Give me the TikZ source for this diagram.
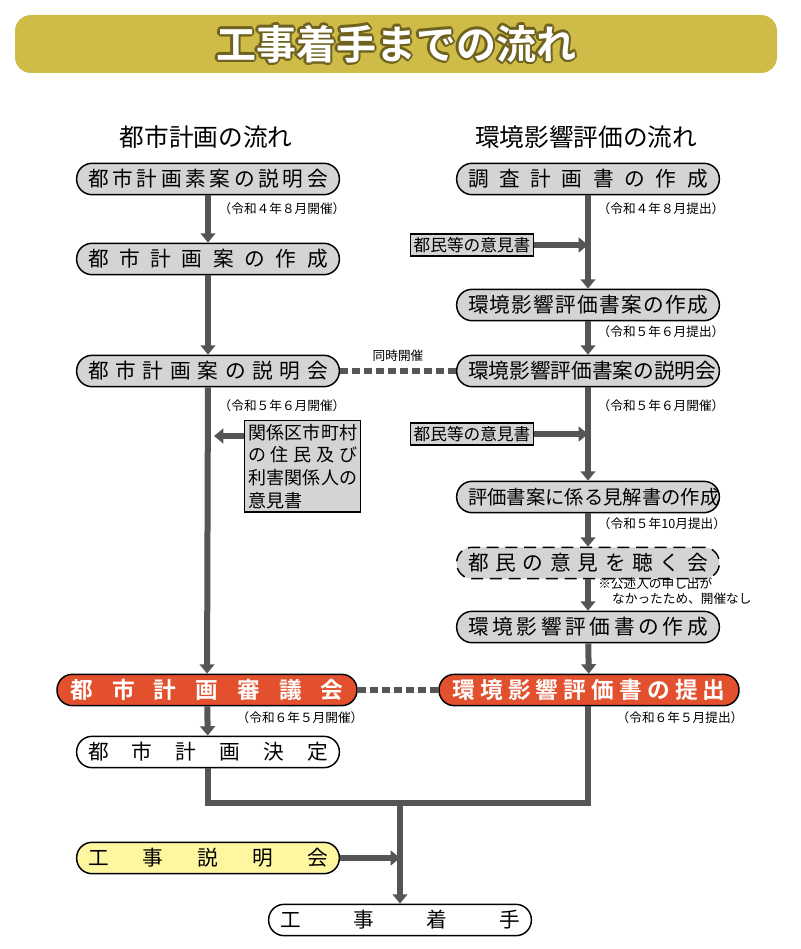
\documentclass[tikz,border=0pt]{standalone}
\usepackage{fontspec}
\setmainfont{Noto Sans CJK JP}
\newfontfamily\cjkb{Noto Sans CJK JP Bold}
\usepackage{contour}
\usetikzlibrary{arrows.meta}
\definecolor{banner}{RGB}{207,187,72}
\definecolor{bannerdark}{RGB}{110,98,30}
\definecolor{boxgray}{RGB}{212,212,212}
\definecolor{linegray}{RGB}{85,85,85}
\definecolor{redbox}{RGB}{226,80,45}
\definecolor{yellowbox}{RGB}{255,246,160}
\tikzstyle{flow} = [draw=black, line width=1.1pt, rounded corners=11.5pt, minimum width=197pt, minimum height=23.5pt, inner sep=0pt, fill=boxgray, font=\fontsize{15.5}{16}\selectfont]
\tikzstyle{redflow} = [flow, fill=redbox, text=white, minimum width=225pt, font=\cjkb\fontsize{17}{18}\selectfont]
\tikzstyle{sq} = [draw=black, line width=1pt, fill=boxgray, inner sep=2.5pt, font=\fontsize{12.5}{15}\selectfont]
\tikzstyle{note} = [font=\fontsize{9.5}{11}\selectfont, inner sep=0pt]
\tikzstyle{arrow} = [linegray, line width=4.5pt, -{Triangle[width=11pt,length=7pt]}]
\tikzstyle{link} = [linegray, line width=4.5pt, dash pattern=on 6pt off 3pt]
% spread characters across a box
\def\sprd#1#2{\makebox[#1][s]{\sprdB#2\relax}}
\def\sprdB#1{#1\sprdA}
\def\sprdA#1{\ifx#1\relax\else\hfil#1\expandafter\sprdA\fi}
\begin{document}
\begin{tikzpicture}[x=0.75pt,y=-0.75pt]
\useasboundingbox (0,0) rectangle (800,949);
\fill[banner, rounded corners=12pt] (15,15) rectangle (777,73);
\contourlength{1.6pt}
\node[font=\cjkb\fontsize{30}{30}\selectfont, text=white] (title) at (396,45) {\contour{bannerdark}{工事着手までの流れ}};

\node[font=\fontsize{18.5}{20}\selectfont] (hcity) at (206,137) {都市計画の流れ};
\node[font=\fontsize{18.5}{20}\selectfont] (henv) at (586,137) {環境影響評価の流れ};

% left column
\node[flow] (c1) at (208,179) {\sprd{180pt}{都市計画素案の説明会}};
\node[flow] (c2) at (208,259) {\sprd{180pt}{都市計画案の作成}};
\node[flow] (c3) at (208,371) {\sprd{180pt}{都市計画案の説明会}};
\node[sq, anchor=north west, align=left, font=\fontsize{13.5}{17}\selectfont] (c3op) at (244,420) {\sprd{82pt}{関係区市町村}\\\sprd{82pt}{の住民及び}\\\sprd{82pt}{利害関係人の}\\意見書};
\node[redflow] (c4) at (207,690) {\sprd{205pt}{都市計画審議会}};
\node[flow, fill=white] (c5) at (208,752) {\sprd{180pt}{都市計画決定}};
\node[flow, fill=yellowbox] (work) at (208,858) {\sprd{180pt}{工事説明会}};
\node[flow, fill=white] (start) at (400,920) {\sprd{180pt}{工事着手}};

\node[note] at (282,209) {（令和４年８月開催）};
\node[note] at (282,406) {（令和５年６月開催）};
\node[note] at (300,718) {（令和６年５月開催）};

% right column
\node[flow] (e1) at (588,179) {\sprd{180pt}{調査計画書の作成}};
\node[sq] (op1) at (472,245) {都民等の意見書};
\node[flow] (e2) at (588,305) {\sprd{180pt}{環境影響評価書案の作成}};
\node[flow] (e3) at (588,371) {\sprd{180pt}{環境影響評価書案の説明会}};
\node[sq] (op2) at (472,434) {都民等の意見書};
\node[flow, font=\fontsize{14.5}{16}\selectfont] (e4) at (588,497) {\sprd{180pt}{評価書案に係る見解書の作成}};
\node[flow, dashed, dash pattern=on 9pt off 5pt] (e5) at (588,563) {\sprd{180pt}{都民の意見を聴く会}};
\node[flow] (e6) at (588,627) {\sprd{180pt}{環境影響評価書の作成}};
\node[redflow] (e7) at (589,690) {\sprd{205pt}{環境影響評価書の提出}};

\node[note] at (661,209) {（令和４年８月提出）};
\node[note] at (661,332) {（令和５年６月提出）};
\node[note] at (661,406) {（令和５年６月開催）};
\node[note] at (662,524) {（令和５年10月提出）};
\node[note, align=left, anchor=north west] at (598,578) {※公述人の申し出が\\\hspace{1.1em}なかったため、開催なし};
\node[note] at (680,718) {（令和６年５月提出）};
\node[note] at (398,356) {同時開催};

% connectors
\draw[arrow] (c1) -- (c2);
\draw[arrow] (c2) -- (c3);
\draw[arrow] (c3) -- (c4);
\draw[arrow] (c4) -- (c5);
\draw[arrow] (c3op.west |- 0,436) -- ++(-30,0);
\draw[arrow] (e1) -- (e2);
\draw[arrow] (op1) -- (op1 -| e1);
\draw[arrow] (e2) -- (e3);
\draw[arrow] (e3) -- (e4);
\draw[arrow] (op2) -- (op2 -| e1);
\draw[arrow] (e4) -- (e5);
\draw[arrow] (e5) -- (e6);
\draw[arrow] (e6) -- (e7);
\draw[link] (c3) -- (e3);
\draw[link] (c4) -- (e7);
\coordinate (join) at (400,803);
\draw[linegray, line width=4.5pt] (c5.south) |- (join) -| (e7.south -| e1);
\draw[arrow] (join) -- (start);
\draw[arrow] (work) -- (work -| join);
\end{tikzpicture}
\end{document}
